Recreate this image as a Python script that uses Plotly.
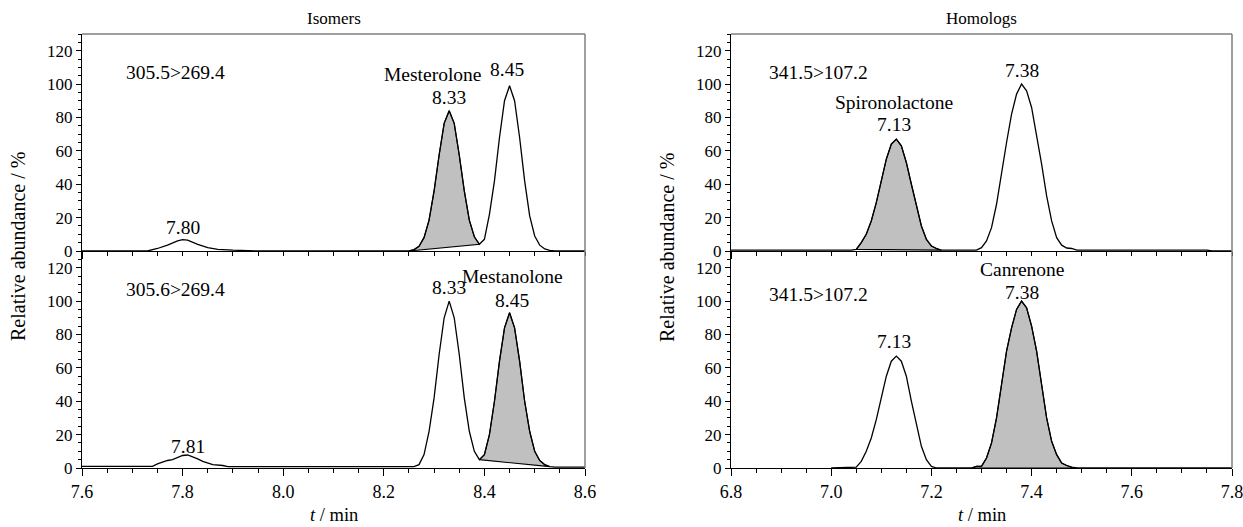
import plotly.graph_objects as go

# ---------------- data ----------------
# Isomers, 305.5>269.4 (top-left)
tl_t = [7.60, 7.73, 7.75, 7.77, 7.79, 7.80, 7.81, 7.83, 7.85, 7.87, 7.90, 7.93, 7.95,
        8.25, 8.26, 8.27, 8.28, 8.29, 8.30, 8.31, 8.32, 8.33, 8.34, 8.35, 8.36, 8.37, 8.38, 8.39,
        8.40, 8.41, 8.42, 8.43, 8.44, 8.45, 8.46, 8.47, 8.48, 8.49, 8.50, 8.51, 8.52, 8.53, 8.54, 8.60]
tl_y = [0, 0, 1.5, 3.5, 6, 6.8, 6.5, 4, 2, 1, 0.5, 0.2, 0,
        0, 0.8, 2.8, 8, 18.5, 36, 57.5, 76.5, 84, 76.5, 57.5, 36, 18.5, 8.5, 4,
        7, 22, 42, 68, 90, 99, 90, 68, 42, 21, 9, 3.5, 1.2, 0.4, 0, 0]
tl_shade = (8.25, 8.39)

# Isomers, 305.6>269.4 (bottom-left)
bl_t = [7.60, 7.74, 7.75, 7.76, 7.77, 7.78, 7.79, 7.80, 7.81, 7.82, 7.83, 7.84, 7.85, 7.86, 7.88, 7.89,
        8.26, 8.27, 8.28, 8.29, 8.30, 8.31, 8.32, 8.33, 8.34, 8.35, 8.36, 8.37, 8.38, 8.39,
        8.40, 8.41, 8.42, 8.43, 8.44, 8.45, 8.46, 8.47, 8.48, 8.49, 8.50, 8.51, 8.52, 8.53, 8.54, 8.60]
bl_y = [1, 1, 2.5, 3.5, 4.5, 5, 6.5, 7.5, 7.8, 6.8, 5.5, 4, 3, 2, 1.5, 0.8,
        0.8, 2, 8, 22, 42, 68, 90, 100, 90, 68, 42, 22, 10, 5,
        8, 20, 40, 64, 84, 93, 84, 64, 40, 22, 10, 4.5, 2, 0.8, 0.5, 0.5]
bl_shade = (8.39, 8.53)

# Homologs, 341.5>107.2 (top-right)
tr_t = [6.80, 7.04, 7.05, 7.06, 7.07, 7.08, 7.09, 7.10, 7.11, 7.12, 7.13, 7.14, 7.15, 7.16, 7.17,
        7.18, 7.19, 7.20, 7.21, 7.22, 7.29, 7.30, 7.31, 7.32, 7.33, 7.34, 7.35, 7.36, 7.37, 7.38,
        7.39, 7.40, 7.41, 7.42, 7.43, 7.44, 7.45, 7.46, 7.47, 7.48, 7.49, 7.75, 7.76, 7.80]
tr_y = [0.5, 0.5, 1, 5, 10, 18, 29, 42, 55, 64, 67, 63, 53, 40, 27,
        15, 7, 3, 1.5, 0.5, 0.5, 2, 6, 14, 28, 48, 65, 82, 94, 100,
        96, 86, 70, 52, 33, 18, 8, 3.5, 1.8, 1.5, 0.5, 0.5, 0, 0]
tr_shade = (7.05, 7.22)

# Homologs, 341.5>107.2 (bottom-right)
br_t = [7.00, 7.05, 7.06, 7.07, 7.08, 7.09, 7.10, 7.11, 7.12, 7.13, 7.14, 7.15, 7.16, 7.17, 7.18,
        7.19, 7.20, 7.21, 7.28, 7.29, 7.30, 7.31, 7.32, 7.33, 7.34, 7.35, 7.36, 7.37, 7.38, 7.39,
        7.40, 7.41, 7.42, 7.43, 7.44, 7.45, 7.46, 7.47, 7.48, 7.49, 7.80]
br_y = [0, 0.5, 4, 10, 18, 29, 42, 55, 64, 67, 64, 55, 40, 26, 13,
        5, 1, 0, 0, 1, 1, 6, 15, 30, 50, 70, 84, 95, 100, 96,
        85, 70, 50, 30, 16, 8, 3, 1.5, 0.5, 0, 0]
br_shade = (7.28, 7.49)

panel_titles = ["Isomers", "Homologs"]
transitions = ["305.5>269.4", "305.6>269.4", "341.5>107.2", "341.5>107.2"]
y_ticks = [0, 20, 40, 60, 80, 100, 120]
left_x_ticks = [7.6, 7.8, 8.0, 8.2, 8.4, 8.6]
right_x_ticks = [6.8, 7.0, 7.2, 7.4, 7.6, 7.8]

# ---------------- layout geometry ----------------
# the page's default body margin is removed (post_script), so the figure fills the window
W, H = 1243, 527
def px_x(p): return p / W
def px_y(p): return 1 - p / H

LX = [px_x(82), px_x(585)]
RX = [px_x(731), px_x(1232)]
TOP = [px_y(251), px_y(34)]
BOT = [px_y(468), px_y(251)]

FONT = "Liberation Serif, Times New Roman, Times, serif"
TICK_SIZE = 17
ANN_SIZE = 19.5
fig = go.Figure()

panels = [
    ("x", "y", tl_t, tl_y, tl_shade),
    ("x2", "y2", bl_t, bl_y, bl_shade),
    ("x3", "y3", tr_t, tr_y, tr_shade),
    ("x4", "y4", br_t, br_y, br_shade),
]
for xa, ya, t, y, (s0, s1) in panels:
    st = [a for a in t if s0 - 1e-9 <= a <= s1 + 1e-9]
    sy = [b for a, b in zip(t, y) if s0 - 1e-9 <= a <= s1 + 1e-9]
    fig.add_trace(go.Scatter(x=st + [st[0]], y=sy + [sy[0]], mode="lines", fill="toself",
                             fillcolor="#c0c0c0", line=dict(color="black", width=1.1),
                             xaxis=xa, yaxis=ya, showlegend=False, hoverinfo="skip"))
    fig.add_trace(go.Scatter(x=t, y=y, mode="lines", line=dict(color="black", width=1.3),
                             xaxis=xa, yaxis=ya, showlegend=False))

def xaxis(domain, anchor, ticks, labels):
    return dict(domain=domain, anchor=anchor, range=[ticks[0], ticks[-1]], tickvals=ticks,
                ticktext=[f"{v:.1f}" for v in ticks] if labels else [""] * len(ticks),
                showticklabels=labels, ticks="outside", ticklen=7, tickwidth=1.2,
                tickcolor="black", showline=True, linecolor="black", linewidth=1.3,
                minor=dict(dtick=0.05, ticks="outside", ticklen=4, tickwidth=1, tickcolor="black"),
                showgrid=False, zeroline=False, automargin=False, ticklabeloverflow="allow",
                tickfont=dict(family=FONT, size=TICK_SIZE + 1, color="black"))

def yaxis(domain, anchor):
    return dict(domain=domain, anchor=anchor, range=[0, 130], tickvals=y_ticks,
                ticks="outside", ticklen=5, tickwidth=1.2, tickcolor="black",
                showline=True, linecolor="black", linewidth=1.3,
                minor=dict(dtick=5, ticks="outside", ticklen=3, tickwidth=1, tickcolor="black"),
                showgrid=False, zeroline=False, automargin=False, ticklabeloverflow="allow",
                tickfont=dict(family=FONT, size=TICK_SIZE, color="black"))

fig.update_layout(
    xaxis=xaxis(LX, "y", left_x_ticks, False),
    xaxis2=xaxis(LX, "y2", left_x_ticks, True),
    xaxis3=xaxis(RX, "y3", right_x_ticks, False),
    xaxis4=xaxis(RX, "y4", right_x_ticks, True),
    yaxis=yaxis(TOP, "x"),
    yaxis2=yaxis(BOT, "x2"),
    yaxis3=yaxis(TOP, "x3"),
    yaxis4=yaxis(BOT, "x4"),
)

# gray frame lines (top and right)
shapes = []
for xd, yt, yb in [(LX, TOP[1], BOT[0]), (RX, TOP[1], BOT[0])]:
    shapes.append(dict(type="line", xref="paper", yref="paper", x0=xd[0], x1=xd[1], y0=yt, y1=yt,
                       line=dict(color="#7f7f7f", width=1.5)))
    shapes.append(dict(type="line", xref="paper", yref="paper", x0=xd[1], x1=xd[1], y0=yb, y1=yt,
                       line=dict(color="#7f7f7f", width=1.5)))

ann = []
def txt(x, y, s, xref, yref, size=ANN_SIZE, **kw):
    d = dict(x=x, y=y, text=s, xref=xref, yref=yref, showarrow=False,
             xanchor="center", yanchor="middle",
             font=dict(family=FONT, size=size, color="black"))
    d.update(kw)
    ann.append(d)

# panel titles
txt((LX[0] + LX[1]) / 2, px_y(18), panel_titles[0], "paper", "paper", size=17)
txt((RX[0] + RX[1]) / 2, px_y(18), panel_titles[1], "paper", "paper", size=17)
# axis titles
for xd, xp in [(LX, 18), (RX, 667)]:
    txt(px_x(xp), px_y(247), "Relative abundance / %", "paper", "paper", size=20, textangle=-90)
    txt((xd[0] + xd[1]) / 2, px_y(515), "<i>t</i> / min", "paper", "paper", size=18.5)

# top-left
txt(7.785, 107, transitions[0], "x", "y")
txt(7.80, 14, "7.80", "x", "y")
txt(8.296, 105.5, "Mesterolone", "x", "y")
txt(8.33, 92, "8.33", "x", "y")
txt(8.445, 108.5, "8.45", "x", "y")
# bottom-left
txt(7.785, 107, transitions[1], "x2", "y2")
txt(7.81, 12.6, "7.81", "x2", "y2")
txt(8.33, 108, "8.33", "x2", "y2")
txt(8.455, 114.5, "Mestanolone", "x2", "y2")
txt(8.455, 100.5, "8.45", "x2", "y2")
# top-right
txt(6.974, 107, transitions[2], "x3", "y3")
txt(7.38, 108, "7.38", "x3", "y3")
txt(7.125, 89, "Spironolactone", "x3", "y3")
txt(7.125, 76, "7.13", "x3", "y3")
# bottom-right
txt(6.974, 104, transitions[3], "x4", "y4")
txt(7.38, 119, "Canrenone", "x4", "y4")
txt(7.38, 105, "7.38", "x4", "y4")
txt(7.125, 75.5, "7.13", "x4", "y4")

fig.update_layout(width=W, height=H, margin=dict(l=0, r=0, t=0, b=0),
                  paper_bgcolor="white", plot_bgcolor="white",
                  annotations=ann, shapes=shapes, showlegend=False,
                  font=dict(family=FONT, size=TICK_SIZE, color="black"))

fig.write_html("out.html", config={"displayModeBar": False},
               post_script="document.body.style.margin='0';"
                           "document.body.style.overflow='hidden';")
